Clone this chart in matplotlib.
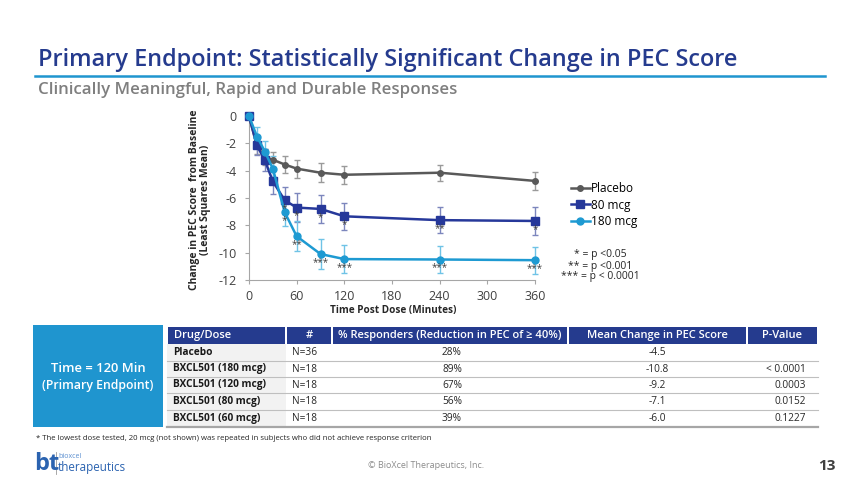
import numpy as np
import matplotlib
matplotlib.use("Agg")
import matplotlib.pyplot as plt
from matplotlib.patches import Rectangle

plt.rcParams['font.family'] = ['Open Sans', 'DejaVu Sans']

# chart data
times = [0, 10, 20, 30, 45, 60, 90, 120, 240, 360]
placebo = [0, -2.2, -3.0, -3.2, -3.55, -3.85, -4.15, -4.3, -4.15, -4.75]
placebo_err = [0, 0.6, 0.6, 0.55, 0.65, 0.65, 0.7, 0.65, 0.6, 0.65]
dose80 = [0, -2.15, -3.25, -4.78, -6.17, -6.7, -6.8, -7.34, -7.62, -7.68]
dose80_err = [0, 0.7, 0.8, 0.9, 1.0, 1.05, 1.05, 1.0, 0.95, 1.0]
dose180 = [0, -1.5, -2.6, -3.85, -7.05, -8.8, -10.1, -10.47, -10.5, -10.55]
dose180_err = [0, 0.7, 0.8, 0.95, 1.0, 1.1, 1.1, 1.0, 1.0, 1.0]
stars80 = ['', '', '', '', '*', '*', '*', '*', '**', '*']
stars180 = ['', '', '', '', '*', '**', '***', '***', '***', '***']
xticks = [0, 60, 120, 180, 240, 300, 360]
yticks = [0, -2, -4, -6, -8, -10, -12]

# table data
tbl_header = ['Drug/Dose', '#', '% Responders (Reduction in PEC of \u2265 40%)',
              'Mean Change in PEC Score', 'P-Value']
drugs = ['Placebo', 'BXCL501 (180 mcg)', 'BXCL501 (120 mcg)',
         'BXCL501 (80 mcg)', 'BXCL501 (60 mcg)']
n_subj = ['N=36', 'N=18', 'N=18', 'N=18', 'N=18']
responders = ['28%', '89%', '67%', '56%', '39%']
mean_change = ['-4.5', '-10.8', '-9.2', '-7.1', '-6.0']
p_values = ['', '< 0.0001', '0.0003', '0.0152', '0.1227']

W, H = 850, 478
fig = plt.figure(figsize=(W / 100, H / 100), dpi=100)
bg = fig.add_axes([0, 0, 1, 1])
bg.set_xlim(0, W)
bg.set_ylim(H, 0)
bg.axis('off')
rend = fig.canvas.get_renderer()


def fit(t, width_px, vertical=False):
    bb = t.get_window_extent(rend)
    w = bb.height if vertical else bb.width
    t.set_fontsize(t.get_fontsize() * width_px / w)
    return t


NAVY = '#253b8e'
SKY = '#1f95cf'
GREY = '#404040'

# heading
fit(bg.text(38, 60, 'Primary Endpoint: Statistically Significant Change in PEC Score',
            color=NAVY, fontsize=18, fontweight='semibold', va='center'), 703)
bg.plot([35, 825], [76, 76], color=SKY, lw=1.8)
fit(bg.text(38, 90, 'Clinically Meaningful, Rapid and Durable Responses',
            color='#7f7f7f', fontsize=11, fontweight='semibold', va='center'), 416)

# chart
ax = fig.add_axes([249 / W, 1 - 280 / H, (535 - 249) / W, (280 - 116) / H])
series = [
    (placebo, placebo_err, 'Placebo', '#595959', '#9a9a9a', 'o', 4),
    (dose80, dose80_err, '80 mcg', '#26389a', '#7c86bd', 's', 5.5),
    (dose180, dose180_err, '180 mcg', '#1e9ad2', '#6fc3e6', 'o', 5),
]
for vals, err, lab, col, ecol, mk, ms in series:
    ax.errorbar(times, vals, yerr=err, fmt='none', ecolor=ecol, elinewidth=1,
                capsize=2.5, capthick=1, zorder=2, clip_on=False)
    ax.plot(times, vals, color=col, lw=1.8, marker=mk, ms=ms, label=lab,
            zorder=3, clip_on=False)

for t, v, s in zip(times, dose80, stars80):
    if s:
        ax.annotate(s, (t, v), xytext=(0, -2), textcoords='offset points',
                    ha='center', va='top', fontsize=7, color=GREY)
for t, v, s in zip(times, dose180, stars180):
    if s:
        ax.annotate(s, (t, v), xytext=(0, -2), textcoords='offset points',
                    ha='center', va='top', fontsize=7, color=GREY)

ax.set_xlim(0, 360)
ax.set_ylim(-12, 0)
ax.set_xticks(xticks)
ax.set_yticks(yticks)
ax.set_yticklabels([str(v) for v in yticks])
for s in ['top', 'right']:
    ax.spines[s].set_visible(False)
for s in ['left', 'bottom']:
    ax.spines[s].set_color('#a6a6a6')
ax.tick_params(length=3, color='#a6a6a6', labelsize=9, labelcolor=GREY)
ax.tick_params(axis='y', pad=6)
ax.tick_params(axis='x', pad=4)
ax.patch.set_alpha(0)

ax.legend(frameon=False, loc='center left', bbox_to_anchor=(565 / W, 1 - 205 / H),
          bbox_transform=fig.transFigure, fontsize=8.5, handlelength=1.6,
          handletextpad=0.1, labelspacing=0.3, borderpad=0)

for y, s in zip([255, 266, 277], ['* = p <0.05', '** = p <0.001', '*** = p < 0.0001']):
    bg.text(600, y, s, ha='center', va='center', fontsize=7.5, color='#262626')

fit(bg.text(200, 200, 'Change in PEC Score  from Baseline\n(Least Squares Mean)',
            rotation=90, ha='center', va='center', multialignment='center',
            fontsize=8, fontweight='bold', color='#262626', linespacing=1.05),
    182, vertical=True)
fit(bg.text(393, 311, 'Time Post Dose (Minutes)', ha='center', va='center',
            fontsize=8, fontweight='bold', color='#262626'), 126)

# left blue box
bg.add_patch(Rectangle((33, 325), 130, 102, color=SKY, lw=0))
fit(bg.text(98, 369, 'Time = 120 Min', color='white', fontsize=9.5,
            fontweight='semibold', ha='center', va='center'), 96)
fit(bg.text(98, 386, '(Primary Endpoint)', color='white', fontsize=9.5,
            fontweight='semibold', ha='center', va='center'), 112)

# table
col_edges = [167, 286, 332, 568, 747, 818]
bg.add_patch(Rectangle((167, 344), 119, 83, color='#f2f2f2', lw=0))
for i, h in enumerate(tbl_header):
    x0, x1 = col_edges[i] + 1, col_edges[i + 1] - 1
    bg.add_patch(Rectangle((x0, 327), x1 - x0, 17, color=NAVY, lw=0))
    if i == 0:
        bg.text(x0 + 6, 335.5, h, color='white', fontsize=8,
                fontweight='semibold', va='center')
    else:
        bg.text((x0 + x1) / 2, 335.5, h, color='white', fontsize=8,
                fontweight='semibold', ha='center', va='center')

row_tops = [344, 361, 377, 393, 410, 427]
for r in range(len(drugs)):
    yc = (row_tops[r] + row_tops[r + 1]) / 2
    bg.text(173, yc, drugs[r], fontsize=7.3, fontweight='bold', color='#1a1a1a', va='center')
    bg.text(292, yc, n_subj[r], fontsize=7.3, color='#262626', va='center')
    bg.text(452, yc, responders[r], fontsize=7.3, color='#262626', ha='center', va='center')
    bg.text(657, yc, mean_change[r], fontsize=7.3, color='#262626', ha='center', va='center')
    bg.text(806, yc, p_values[r], fontsize=7.3, color='#262626', ha='right', va='center')
    if r < len(drugs) - 1:
        bg.plot([167, 818], [row_tops[r + 1]] * 2, color='#bfbfbf', lw=0.8)
bg.plot([167, 818], [427, 427], color='#a6a6a6', lw=1.6)

fit(bg.text(36, 439, '* The lowest dose tested, 20 mcg (not shown) was repeated in subjects '
            'who did not achieve response criterion', fontsize=6, color='#262626',
            va='center'), 398)

# footer
bg.text(34, 464, 'bt', fontsize=17, fontweight='bold', color='#2b63b0', va='center')
bg.plot([56, 56], [452, 474], color='#9a9a9a', lw=0.6)
bg.text(58, 457, 'bioxcel', fontsize=5, color='#5b8fd0', va='center')
fit(bg.text(58, 468, 'therapeutics', fontsize=10, color='#2b63b0', va='center'), 68)
fit(bg.text(426, 466, '\u00a9 BioXcel Therapeutics, Inc.', fontsize=6.5,
            color='#8c8c8c', ha='center', va='center'), 116)
bg.text(836, 466, '13', fontsize=11, fontweight='bold', color=GREY, ha='right', va='center')

fig.savefig('out.png', dpi=100)
